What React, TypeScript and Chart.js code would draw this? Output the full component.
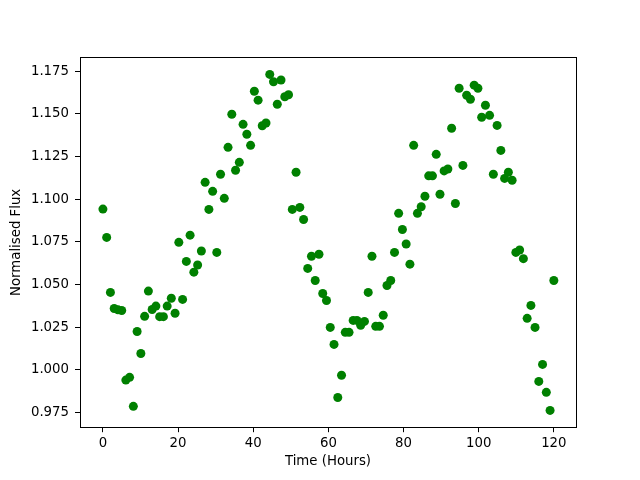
import React, { useEffect, useRef } from "react";
import { Chart, registerables } from "chart.js";

Chart.register(...registerables);

const TIME_HOURS: number[] = [
  0, 1.0, 2.0, 3.0, 4.0, 5.0, 6.1, 7.1, 8.1, 9.1,
  10.1, 11.1, 12.1, 13.1, 14.1, 15.1, 16.1, 17.1, 18.2, 19.2,
  20.2, 21.2, 22.2, 23.2, 24.2, 25.2, 26.2, 27.2, 28.2, 29.2,
  30.3, 31.3, 32.3, 33.3, 34.3, 35.3, 36.3, 37.3, 38.3, 39.3,
  40.3, 41.3, 42.4, 43.4, 44.4, 45.4, 46.4, 47.4, 48.4, 49.4,
  50.4, 51.4, 52.4, 53.4, 54.5, 55.5, 56.5, 57.5, 58.5, 59.5,
  60.5, 61.5, 62.5, 63.5, 64.5, 65.5, 66.6, 67.6, 68.6, 69.6,
  70.6, 71.6, 72.6, 73.6, 74.6, 75.6, 76.6, 77.6, 78.7, 79.7,
  80.7, 81.7, 82.7, 83.7, 84.7, 85.7, 86.7, 87.7, 88.7, 89.7,
  90.8, 91.8, 92.8, 93.8, 94.8, 95.8, 96.8, 97.8, 98.8, 99.8,
  100.8, 101.8, 102.9, 103.9, 104.9, 105.9, 106.9, 107.9, 108.9, 109.9,
  110.9, 111.9, 112.9, 113.9, 115.0, 116.0, 117.0, 118.0, 119.0, 120.0,
];

const NORMALISED_FLUX: number[] = [
  1.0942, 1.0776, 1.0453, 1.0359, 1.0351, 1.0347, 0.9939, 0.9955, 0.9785, 1.0224,
  1.0095, 1.0313, 1.0461, 1.0353, 1.0373, 1.0311, 1.0311, 1.0373, 1.0419, 1.0331,
  1.0747, 1.0412, 1.0635, 1.0789, 1.0572, 1.0614, 1.0696, 1.1099, 1.0940, 1.1046,
  1.0688, 1.1146, 1.1005, 1.1304, 1.1498, 1.1170, 1.1216, 1.1439, 1.1381, 1.1316,
  1.1633, 1.1581, 1.1431, 1.1447, 1.1732, 1.1689, 1.1557, 1.1699, 1.1601, 1.1613,
  1.0940, 1.1158, 1.0952, 1.0881, 1.0594, 1.0665, 1.0523, 1.0677, 1.0447, 1.0406,
  1.0248, 1.0148, 0.9837, 0.9967, 1.0219, 1.0219, 1.0289, 1.0289, 1.0260, 1.0283,
  1.0453, 1.0665, 1.0254, 1.0254, 1.0319, 1.0494, 1.0523, 1.0688, 1.0917, 1.0822,
  1.0737, 1.0619, 1.1316, 1.0917, 1.0956, 1.1017, 1.1137, 1.1137, 1.1263, 1.1029,
  1.1166, 1.1177, 1.1416, 1.0975, 1.1651, 1.1198, 1.1610, 1.1586, 1.1669, 1.1651,
  1.1481, 1.1551, 1.1492, 1.1146, 1.1433, 1.1286, 1.1122, 1.1158, 1.1111, 1.0688,
  1.0702, 1.0651, 1.0301, 1.0377, 1.0248, 0.9931, 1.0031, 0.9867, 0.9761, 1.0523,
];

const X_TICKS: number[] = [0, 20, 40, 60, 80, 100, 120];
const Y_TICKS: number[] = [0.975, 1.0, 1.025, 1.05, 1.075, 1.1, 1.125, 1.15, 1.175];

const X_LABEL = "Time (Hours)";
const Y_LABEL = "Normalised Flux";

const FONT = { family: "'DejaVu Sans', sans-serif", size: 13.3 };

const framePlugin = {
  id: "frame",
  afterDatasetsDraw(chart: any) {
    const { ctx, chartArea } = chart;
    const x0 = Math.floor(chartArea.left) + 0.5;
    const x1 = Math.floor(chartArea.right) + 0.5;
    const y0 = Math.floor(chartArea.top) + 0.5;
    const y1 = Math.floor(chartArea.bottom) + 0.5;
    ctx.save();
    ctx.strokeStyle = "#000";
    ctx.lineWidth = 1;
    ctx.strokeRect(x0, y0, x1 - x0, y1 - y0);
    ctx.restore();
  },
};

export default function App() {
  const canvasRef = useRef<HTMLCanvasElement | null>(null);

  useEffect(() => {
    if (!canvasRef.current) return;
    const points = TIME_HOURS.map((t, i) => ({ x: t, y: NORMALISED_FLUX[i] }));
    const chart = new Chart(canvasRef.current, {
      type: "scatter",
      data: {
        datasets: [
          {
            data: points,
            backgroundColor: "#008000",
            borderColor: "#008000",
            borderWidth: 0,
            pointRadius: 4.5,
            pointHoverRadius: 4.5,
          },
        ],
      },
      options: {
        responsive: false,
        animation: false,
        devicePixelRatio: 1,
        layout: { padding: { top: 57.6, right: 64, left: 0, bottom: 0 } },
        plugins: {
          legend: { display: false },
          tooltip: { enabled: false },
        },
        scales: {
          x: {
            type: "linear",
            min: -6.1,
            max: 125.9,
            border: { display: false },
            grid: {
              display: true,
              drawOnChartArea: false,
              drawTicks: true,
              tickLength: 5,
              tickColor: "#000",
            },
            afterBuildTicks: (scale: any) => {
              scale.ticks = X_TICKS.map((v) => ({ value: v }));
            },
            afterFit: (scale: any) => {
              scale.height = 52.8;
            },
            ticks: {
              color: "#000",
              font: FONT,
              padding: 3,
              maxRotation: 0,
              autoSkip: false,
              callback: (v: any) => String(v),
            },
            title: {
              display: true,
              text: X_LABEL,
              color: "#000",
              font: FONT,
              padding: { top: 0, bottom: 10 },
            },
          },
          y: {
            type: "linear",
            min: 0.96625,
            max: 1.18306,
            border: { display: false },
            grid: {
              display: true,
              drawOnChartArea: false,
              drawTicks: true,
              tickLength: 5,
              tickColor: "#000",
            },
            afterBuildTicks: (scale: any) => {
              scale.ticks = Y_TICKS.map((v) => ({ value: v }));
            },
            afterFit: (scale: any) => {
              scale.width = 80;
            },
            ticks: {
              color: "#000",
              font: FONT,
              padding: 6,
              autoSkip: false,
              callback: (v: any) => Number(v).toFixed(3),
            },
            title: {
              display: true,
              text: Y_LABEL,
              color: "#000",
              font: FONT,
              padding: { top: 9, bottom: 0 },
            },
          },
        },
      },
      plugins: [framePlugin],
    });
    return () => chart.destroy();
  }, []);

  return (
    <div style={{ position: "fixed", left: 0, top: 0, width: 640, height: 480, background: "#fff" }}>
      <canvas ref={canvasRef} width={640} height={480} style={{ display: "block" }} />
    </div>
  );
}
